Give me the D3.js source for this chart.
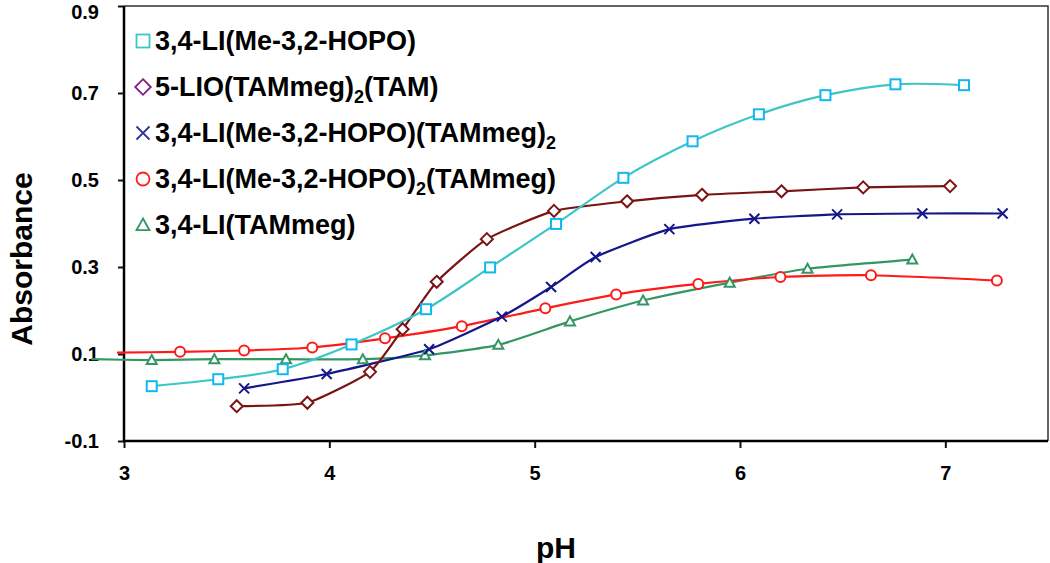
<!DOCTYPE html>
<html>
<head>
<meta charset="utf-8">
<script src="https://cdn.jsdelivr.net/npm/d3@7"></script>
<style>
  html, body { margin: 0; padding: 0; background: #fff; }
  svg { display: block; font-family: "Liberation Sans", Arial, sans-serif; }
</style>
</head>
<body>
<svg id="chart" width="1050" height="563"></svg>
<script>
// ---- data ----
const seriesNames = [
  "3,4-LI(Me-3,2-HOPO)",
  "5-LIO(TAMmeg)2(TAM)",
  "3,4-LI(Me-3,2-HOPO)(TAMmeg)2",
  "3,4-LI(Me-3,2-HOPO)2(TAMmeg)",
  "3,4-LI(TAMmeg)"
];
const xTicks = [3, 4, 5, 6, 7];
const yTicks = [-0.1, 0.1, 0.3, 0.5, 0.7, 0.9];

const phHOPO  = [3.135, 3.459, 3.773, 4.108, 4.471, 4.783, 5.104, 5.432, 5.769, 6.092, 6.416, 6.757, 7.091];
const absHOPO = [0.026, 0.042, 0.065, 0.122, 0.203, 0.299, 0.399, 0.505, 0.589, 0.651, 0.695, 0.720, 0.718];

const phLIO  = [3.549, 3.893, 4.198, 4.357, 4.523, 4.767, 5.094, 5.450, 5.815, 6.202, 6.600, 7.023];
const absLIO = [-0.020, -0.012, 0.059, 0.157, 0.266, 0.364, 0.429, 0.451, 0.466, 0.474, 0.483, 0.486];

const phMix1  = [3.585, 3.987, 4.486, 4.840, 5.080, 5.297, 5.656, 6.070, 6.473, 6.888, 7.279];
const absMix1 = [0.021, 0.054, 0.111, 0.186, 0.254, 0.323, 0.387, 0.411, 0.421, 0.423, 0.423];

const phMix2  = [2.966, 3.273, 3.585, 3.917, 4.271, 4.645, 5.052, 5.397, 5.797, 6.197, 6.638, 7.251];
const absMix2 = [0.103, 0.105, 0.108, 0.115, 0.136, 0.164, 0.205, 0.237, 0.261, 0.277, 0.281, 0.269];

const phTAM  = [2.841, 3.135, 3.440, 3.789, 4.163, 4.466, 4.823, 5.172, 5.528, 5.950, 6.329, 6.839];
const absTAM = [0.088, 0.086, 0.088, 0.088, 0.088, 0.097, 0.121, 0.175, 0.223, 0.264, 0.296, 0.317];

// ---- styling ----
const styles = [
  { line: "#3cc6c6", mark: "#11b8ee", legend: "#3cc6c6", shape: "square",   tension: 0.15 },
  { line: "#7a1414", mark: "#7a1414", legend: "#7f1f86", shape: "diamond",  tension: 0.5 },
  { line: "#16168a", mark: "#16168a", legend: "#333399", shape: "cross",    tension: 0.5 },
  { line: "#ff1a1a", mark: "#ff1a1a", legend: "#ff2020", shape: "circle",   tension: 0.4 },
  { line: "#349664", mark: "#349664", legend: "#349664", shape: "triangle", tension: 0.4 }
];
const phs = [phHOPO, phLIO, phMix1, phMix2, phTAM];
const abss = [absHOPO, absLIO, absMix1, absMix2, absTAM];
const series = phs.map((p, i) => p.map((v, j) => ({ x: v, y: abss[i][j] })));

const svg = d3.select("#chart");
const L = 124, R = 1048, T = 6, B = 441;
const x = d3.scaleLinear().domain([3, 7.5]).range([L, R]);
const y = d3.scaleLinear().domain([-0.1, 0.9]).range([B, T]);

// frame (top/right thin)
svg.append("path")
  .attr("d", `M${L},${T}H${R}V${B}`)
  .attr("fill", "none").attr("stroke", "#333").attr("stroke-width", 1.5);

// axes
const gx = svg.append("g").attr("transform", `translate(0,${B})`)
  .call(d3.axisBottom(x).tickValues(xTicks).tickSize(7).tickPadding(18).tickFormat(d3.format("d")));
gx.select(".domain").remove();
gx.attr("font-size", 20).attr("font-family", null).attr("font-weight", "bold");
gx.selectAll("line").attr("stroke", "#111").attr("stroke-width", 2);
gx.selectAll("text").attr("fill", "#000");

const yFmt = d => d3.format(".1f")(d).replace("\u2212", "-");
const gy = svg.append("g").attr("transform", `translate(${L},0)`)
  .call(d3.axisLeft(y).tickValues(yTicks).tickSize(6).tickPadding(19).tickFormat(yFmt));
gy.select(".domain").remove();
gy.attr("font-size", 20).attr("font-family", null).attr("font-weight", "bold");
gy.selectAll("line").attr("stroke", "#111").attr("stroke-width", 2);
gy.selectAll("text").attr("fill", "#000");
gy.selectAll(".tick").filter(d => d === 0.9).select("text").attr("dy", "0.6em");

svg.append("line").attr("x1", L).attr("x2", L).attr("y1", T).attr("y2", B + 1)
  .attr("stroke", "#000").attr("stroke-width", 2.5);
svg.append("line").attr("x1", L - 1).attr("x2", R).attr("y1", B).attr("y2", B)
  .attr("stroke", "#000").attr("stroke-width", 2.5);

// axis titles
svg.append("text").attr("transform", `translate(32,259) rotate(-90)`)
  .attr("text-anchor", "middle").attr("font-size", 30).attr("font-weight", "bold")
  .text("Absorbance");
svg.append("text").attr("x", 556).attr("y", 558)
  .attr("text-anchor", "middle").attr("font-size", 30).attr("font-weight", "bold")
  .text("pH");

// marker drawing
function drawMarker(g, shape, color, s, sw) {
  if (shape === "square") {
    g.append("rect").attr("x", -s / 2).attr("y", -s / 2).attr("width", s).attr("height", s)
      .attr("fill", "#fff").attr("stroke", color).attr("stroke-width", sw);
  } else if (shape === "diamond") {
    const h = s * 0.6;
    g.append("path").attr("d", `M0,${-h}L${h},0L0,${h}L${-h},0Z`)
      .attr("fill", "#fff").attr("stroke", color).attr("stroke-width", sw);
  } else if (shape === "cross") {
    const h = s / 2;
    g.append("path").attr("d", `M${-h},${-h}L${h},${h}M${-h},${h}L${h},${-h}`)
      .attr("fill", "none").attr("stroke", color).attr("stroke-width", sw);
  } else if (shape === "circle") {
    g.append("circle").attr("r", s / 2)
      .attr("fill", "#fff").attr("stroke", color).attr("stroke-width", sw);
  } else if (shape === "triangle") {
    const h = s / 2;
    g.append("path").attr("d", `M0,${-h}L${h},${h * 0.8}L${-h},${h * 0.8}Z`)
      .attr("fill", "#fff").attr("stroke", color).attr("stroke-width", sw);
  }
}

// lines + markers (draw order: green, red, navy, brown, cyan)
const order = [4, 3, 2, 1, 0];
order.forEach(i => {
  const line = d3.line().x(d => x(d.x)).y(d => y(d.y)).curve(d3.curveCardinal.tension(styles[i].tension));
  svg.append("path").datum(series[i]).attr("d", line)
    .attr("fill", "none").attr("stroke", styles[i].line).attr("stroke-width", 2.2);
});
order.forEach(i => {
  series[i].filter(d => d.x >= 3).forEach(d => {
    const g = svg.append("g").attr("transform", `translate(${x(d.x)},${y(d.y)})`);
    drawMarker(g, styles[i].shape, styles[i].mark, 10, 2);
  });
});

// legend
const legendBase = [50, 96, 142, 188, 234];
seriesNames.forEach((name, i) => {
  const by = legendBase[i];
  const g = svg.append("g").attr("transform", `translate(${143},${by - 9})`);
  drawMarker(g, styles[i].shape, styles[i].legend, 13, 1.8);
  const t = svg.append("text").attr("x", 155).attr("y", by)
    .attr("font-size", 27).attr("font-weight", "bold").attr("fill", "#000");
  const parts = name.split(/(\)2)/).filter(p => p.length);
  let lift = 0;
  parts.forEach(p => {
    if (p === ")2") {
      t.append("tspan").attr("dy", lift ? -lift : null).text(")");
      t.append("tspan").attr("font-size", 18).attr("dy", 7).text("2");
      lift = 7;
    } else {
      t.append("tspan").attr("dy", lift ? -lift : null).text(p);
      lift = 0;
    }
  });
});
</script>
</body>
</html>
